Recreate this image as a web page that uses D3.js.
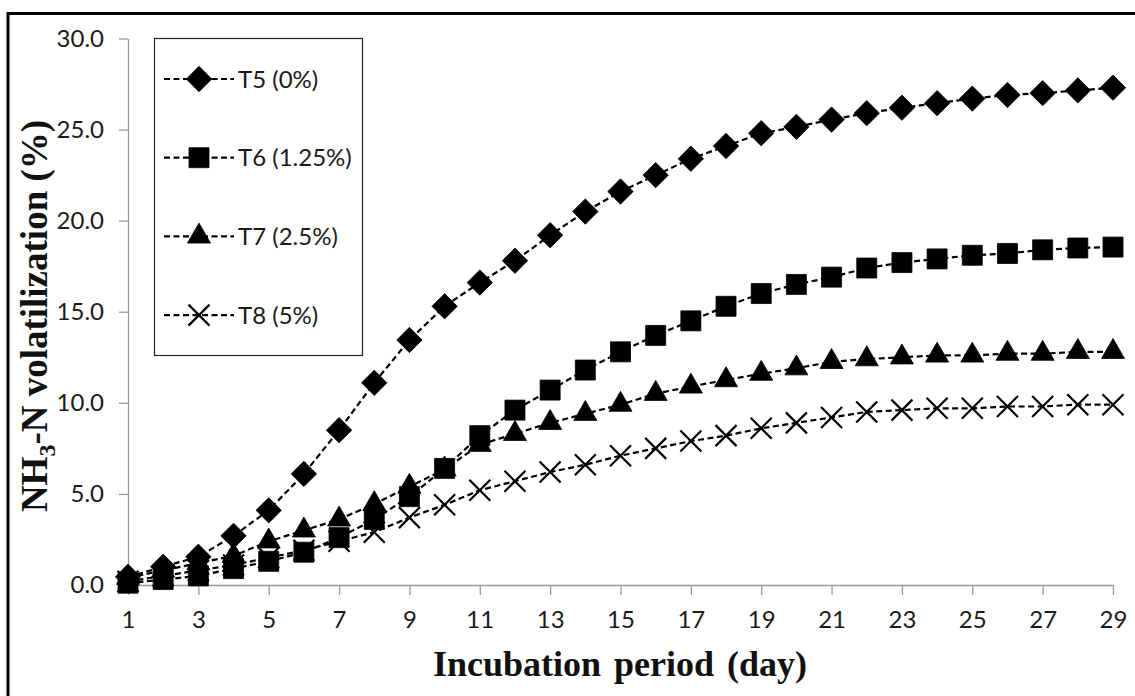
<!DOCTYPE html>
<html>
<head>
<meta charset="utf-8">
<script src="https://cdn.jsdelivr.net/npm/d3@7"></script>
<style>
  body { margin: 0; background: #fff; }
  svg { display: block; }
  .tick text { font-family: Lato, "Open Sans", sans-serif; font-size: 24px; fill: #1a1a1a; }
  .axis path, .axis line { stroke: #9a9a9a; stroke-width: 1.3; }
  .title { font-family: "Liberation Serif", "DejaVu Serif", serif; font-weight: bold; fill: #111; }
  .legend text { font-family: Lato, "Open Sans", sans-serif; font-size: 24px; fill: #1a1a1a; }
</style>
</head>
<body>
<svg width="1135" height="696"></svg>
<script>
// data
const days = d3.range(1, 30)
const seriesNames = ['T5 (0%)', 'T6 (1.25%)', 'T7 (2.5%)', 'T8 (5%)']
const t5 = [0.45, 1.0, 1.55, 2.7, 4.1, 6.1, 8.5, 11.1, 13.45, 15.3, 16.6, 17.8, 19.2, 20.5, 21.6,
  22.5, 23.4, 24.1, 24.8, 25.15, 25.55, 25.9, 26.2, 26.45, 26.7, 26.9, 27.0, 27.15, 27.3]
const t6 = [0.1, 0.3, 0.5, 0.9, 1.3, 1.8, 2.6, 3.6, 4.85, 6.4, 8.2, 9.6, 10.7, 11.8, 12.8,
  13.7, 14.5, 15.3, 16.0, 16.5, 16.9, 17.4, 17.7, 17.9, 18.1, 18.2, 18.4, 18.5, 18.55]
const t7 = [0.4, 0.8, 1.2, 1.6, 2.4, 3.0, 3.6, 4.45, 5.4, 6.35, 7.7, 8.3, 8.9, 9.4, 9.9,
  10.5, 10.9, 11.25, 11.6, 11.9, 12.25, 12.4, 12.5, 12.6, 12.6, 12.7, 12.7, 12.8, 12.8]
const t8 = [0.2, 0.5, 0.8, 1.1, 1.5, 1.9, 2.4, 2.9, 3.7, 4.4, 5.2, 5.7, 6.2, 6.6, 7.1,
  7.5, 7.9, 8.2, 8.6, 8.9, 9.2, 9.5, 9.6, 9.7, 9.7, 9.8, 9.8, 9.9, 9.9]
const xTicks = [1, 3, 5, 7, 9, 11, 13, 15, 17, 19, 21, 23, 25, 27, 29]
const yTicks = [0, 5, 10, 15, 20, 25, 30]

// selections
const $svg = d3.select('svg')

// dimensions
const margin = { top: 38.5, left: 128, right: 22, bottom: 111 }
const width = 1135
const height = 696

const scaleX = d3.scaleLinear().domain([1, 29]).range([margin.left, width - margin.right])
const scaleY = d3.scaleLinear().domain([0, 30]).range([height - margin.bottom, margin.top])

const markerShapes = ['diamond', 'square', 'triangle', 'cross']

function markerPath(shape){
  if (shape === 'diamond') return d3.symbol(d3.symbolSquare, 320)()
  if (shape === 'square') return d3.symbol(d3.symbolSquare, 400)()
  if (shape === 'triangle') return d3.symbol(d3.symbolTriangle, 230)()
  const r = 10.5
  return `M${-r},${-r}L${r},${r}M${-r},${r}L${r},${-r}`
}

function drawMarker(sel, shape){
  sel.append('path')
    .attr('d', markerPath(shape))
    .attr('transform', shape === 'diamond' ? 'rotate(45)' : null)
    .attr('fill', shape === 'cross' ? 'none' : '#000')
    .attr('stroke', '#000')
    .attr('stroke-width', shape === 'cross' ? 2.2 : 0.8)
}

function render(){
  // outer frame (only top and left edges fall inside the picture)
  $svg.append('rect')
    .attr('x', 8).attr('y', 13.5)
    .attr('width', 1400).attr('height', 900)
    .attr('fill', 'none').attr('stroke', '#000').attr('stroke-width', 3)

  // axes
  $svg.append('g')
    .attr('class', 'axis axis--y')
    .attr('transform', `translate(${margin.left},0)`)
    .call(d3.axisLeft(scaleY)
      .tickValues(yTicks)
      .tickFormat(d3.format('.1f'))
      .tickSize(9)
      .tickSizeOuter(0)
      .tickPadding(15))

  $svg.append('g')
    .attr('class', 'axis axis--x')
    .attr('transform', `translate(0,${scaleY(0)})`)
    .call(d3.axisBottom(scaleX)
      .tickValues(xTicks)
      .tickFormat(d3.format('d'))
      .tickSize(10)
      .tickSizeOuter(0)
      .tickPadding(16))

  // series
  const allSeries = [t5, t6, t7, t8].map((vals, i) => ({
    name: seriesNames[i],
    shape: markerShapes[i],
    values: vals.map((v, j) => ({ day: days[j], v }))
  }))

  const line = d3.line().x(d => scaleX(d.day)).y(d => scaleY(d.v))

  const $series = $svg.selectAll('.series')
    .data(allSeries)
    .enter()
    .append('g')
    .attr('class', 'series')

  $series.append('path')
    .attr('d', d => line(d.values))
    .attr('fill', 'none')
    .attr('stroke', '#000')
    .attr('stroke-width', 2.2)
    .attr('stroke-dasharray', '6,3.5')

  $series.each(function(s){
    d3.select(this).selectAll('.pt')
      .data(s.values)
      .enter()
      .append('g')
      .attr('class', 'pt')
      .attr('transform', d => `translate(${scaleX(d.day)},${scaleY(d.v)})`)
      .each(function(){ drawMarker(d3.select(this), s.shape) })
  })

  // legend
  const $legend = $svg.append('g').attr('class', 'legend')
  $legend.append('rect')
    .attr('x', 154.5).attr('y', 38.5)
    .attr('width', 208).attr('height', 317)
    .attr('fill', '#fff').attr('stroke', '#222').attr('stroke-width', 1.2)

  const $items = $legend.selectAll('.item')
    .data(allSeries)
    .enter()
    .append('g')
    .attr('class', 'item')
    .attr('transform', (d, i) => `translate(0,${79 + i * 78.7})`)

  $items.append('line')
    .attr('x1', 164).attr('x2', 234)
    .attr('stroke', '#000').attr('stroke-width', 2.2)
    .attr('stroke-dasharray', '6,3.5')

  $items.append('g')
    .attr('transform', 'translate(199,0)')
    .each(function(d){ drawMarker(d3.select(this), d.shape) })

  $items.append('text')
    .attr('x', 238)
    .attr('dy', '0.36em')
    .text(d => d.name)

  // axis titles
  $svg.append('text')
    .attr('class', 'title')
    .attr('x', 620).attr('y', 676)
    .attr('text-anchor', 'middle')
    .style('font-size', '36px')
    .style('word-spacing', '4px')
    .text('Incubation period (day)')

  const $yTitle = $svg.append('text')
    .attr('class', 'title')
    .attr('transform', 'translate(47,316) rotate(-90)')
    .attr('text-anchor', 'middle')
    .style('font-size', '37px')
  $yTitle.append('tspan').text('NH')
  $yTitle.append('tspan').attr('dy', 8).style('font-size', '24px').text('3')
  $yTitle.append('tspan').attr('dy', -8).text('-N volatilization (%)')
}

render()
</script>
</body>
</html>
